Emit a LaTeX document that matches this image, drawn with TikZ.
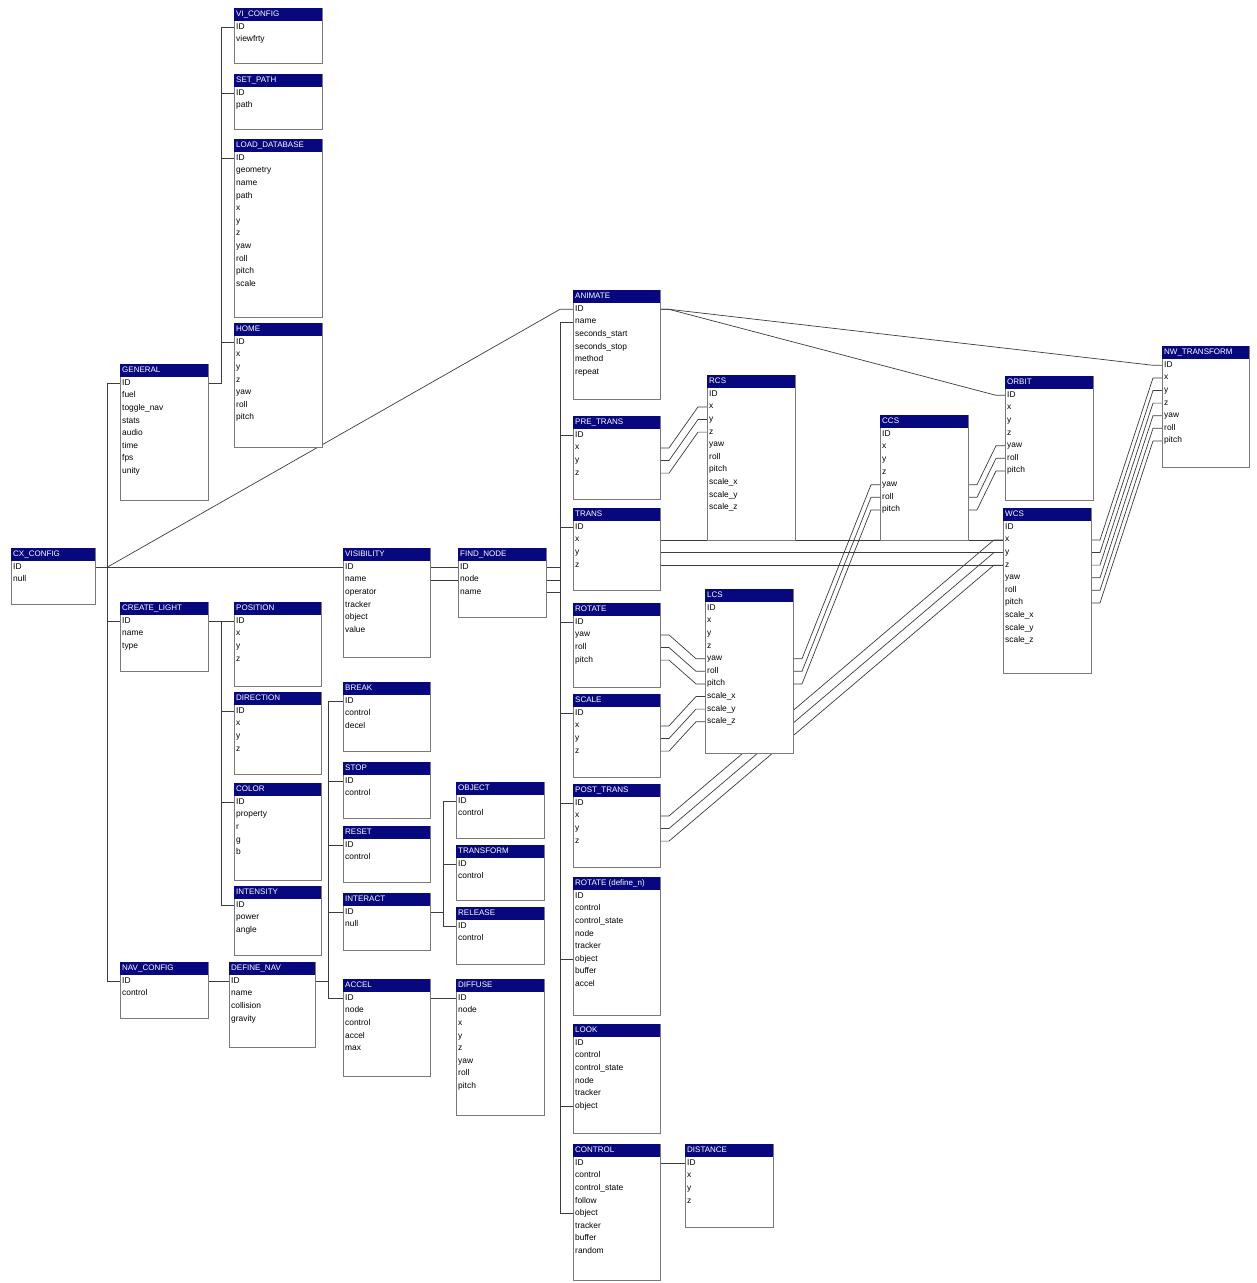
\documentclass[tikz,border=0pt]{standalone}
\usepackage{fontspec}
\setmainfont{Liberation Sans}
\usetikzlibrary{backgrounds}
\definecolor{ttlblue}{HTML}{08087E}
\definecolor{bordergray}{HTML}{7A7A7A}
\definecolor{linegray}{HTML}{3C3C3C}
\tikzset{
 tbox/.style={draw=bordergray, line width=0.9pt, fill=white, inner sep=0pt, outer sep=0pt},
 ttlbar/.style={fill=ttlblue, inner sep=0pt, outer sep=0pt},
 ttltext/.style={text=white, font=\fontsize{8}{9}\selectfont, inner sep=0pt, text height=6pt, text depth=2pt, anchor=west},
 fldtext/.style={text=black, font=\fontsize{8.4}{9}\selectfont, inner sep=0pt, text height=6pt, text depth=2pt, anchor=west},
 conn/.style={draw=linegray, line width=0.7pt},
}
\newcommand{\ertable}[7]{%
 \pgfmathsetmacro\tw{#4-#2}%
 \pgfmathsetmacro\th{#5-#3}%
 \node[tbox, minimum width=\tw pt, minimum height=\th pt, anchor=north west] (#1) at (#2,#3) {};
 \node[ttlbar, minimum width=\tw pt, minimum height=13pt, anchor=north west] (#1-t) at (#2,#3) {};
 \node[ttltext] (#1-tt) at ({#2+2},{#3+6.5}) {#6};
 \foreach \f [count=\i] in {#7} {
   \pgfmathsetmacro\ry{#3+19.3+(\i-1)*12.6}
   \node[fldtext] (#1-\i) at ({#2+2},\ry) {\f};
   \coordinate (#1-\i-l) at (#2,\ry);
   \coordinate (#1-\i-r) at (#4,\ry);
 }
}
\newcommand{\erlink}[2]{\draw[conn] (#1) -- ++(9,0) -- ([xshift=-9pt]#2) -- (#2);}
\begin{document}
\begin{tikzpicture}[x=1pt,y=-1pt]
\useasboundingbox (0,0) rectangle (1257,1283);
% ---------- tables ----------
\ertable{vic}{234}{8}{322}{63}{VI\_CONFIG}{ID,viewfrty}
\ertable{setp}{234}{74}{322}{129}{SET\_PATH}{ID,path}
\ertable{load}{234}{139}{322}{317}{LOAD\_DATABASE}{ID,geometry,name,path,x,y,z,yaw,roll,pitch,scale}
\ertable{home}{234}{323}{322}{447}{HOME}{ID,x,y,z,yaw,roll,pitch}
\ertable{gen}{120}{364}{208}{500}{GENERAL}{ID,fuel,toggle\_nav,stats,audio,time,fps,unity}
\ertable{cx}{11}{548}{95}{604}{CX\_CONFIG}{ID,null}
\ertable{cl}{120}{602}{208}{671}{CREATE\_LIGHT}{ID,name,type}
\ertable{pos}{234}{602}{321}{686}{POSITION}{ID,x,y,z}
\ertable{dir}{234}{692}{321}{774}{DIRECTION}{ID,x,y,z}
\ertable{col}{234}{783}{321}{880}{COLOR}{ID,property,r,g,b}
\ertable{int}{234}{886}{321}{955}{INTENSITY}{ID,power,angle}
\ertable{navc}{120}{962}{208}{1018}{NAV\_CONFIG}{ID,control}
\ertable{dnav}{229}{962}{315}{1047}{DEFINE\_NAV}{ID,name,collision,gravity}
\ertable{vis}{343}{548}{430}{657}{VISIBILITY}{ID,name,operator,tracker,object,value}
\ertable{fnd}{458}{548}{546}{617}{FIND\_NODE}{ID,node,name}
\ertable{brk}{343}{682}{430}{751}{BREAK}{ID,control,decel}
\ertable{stp}{343}{762}{430}{818}{STOP}{ID,control}
\ertable{rst}{343}{826}{430}{882}{RESET}{ID,control}
\ertable{inter}{343}{893}{430}{950}{INTERACT}{ID,null}
\ertable{acc}{343}{979}{430}{1076}{ACCEL}{ID,node,control,accel,max}
\ertable{obj}{456}{782}{544}{838}{OBJECT}{ID,control}
\ertable{trf}{456}{845}{544}{900}{TRANSFORM}{ID,control}
\ertable{rel}{456}{907}{544}{964}{RELEASE}{ID,control}
\ertable{dif}{456}{979}{544}{1115}{DIFFUSE}{ID,node,x,y,z,yaw,roll,pitch}
\ertable{ani}{573}{290}{660}{399}{ANIMATE}{ID,name,seconds\_start,seconds\_stop,method,repeat}
\ertable{pre}{573}{416}{660}{499}{PRE\_TRANS}{ID,x,y,z}
\ertable{trs}{573}{508}{660}{590}{TRANS}{ID,x,y,z}
\ertable{rot}{573}{603}{660}{687}{ROTATE}{ID,yaw,roll,pitch}
\ertable{scl}{573}{694}{660}{777}{SCALE}{ID,x,y,z}
\ertable{post}{573}{784}{660}{867}{POST\_TRANS}{ID,x,y,z}
\ertable{rotd}{573}{877}{660}{1015}{ROTATE (define\_n)}{ID,control,control\_state,node,tracker,object,buffer,accel}
\ertable{look}{573}{1024}{660}{1133}{LOOK}{ID,control,control\_state,node,tracker,object}
\ertable{ctl}{573}{1144}{660}{1280}{CONTROL}{ID,control,control\_state,follow,object,tracker,buffer,random}
\ertable{dist}{685}{1144}{773}{1227}{DISTANCE}{ID,x,y,z}
\ertable{rcs}{707}{375}{795}{540}{RCS}{ID,x,y,z,yaw,roll,pitch,scale\_x,scale\_y,scale\_z}
\ertable{lcs}{705}{589}{793}{753}{LCS}{ID,x,y,z,yaw,roll,pitch,scale\_x,scale\_y,scale\_z}
\ertable{ccs}{880}{415}{968}{540}{CCS}{ID,x,y,z,yaw,roll,pitch}
\ertable{orb}{1005}{376}{1093}{500}{ORBIT}{ID,x,y,z,yaw,roll,pitch}
\ertable{wcs}{1003}{508}{1091}{673}{WCS}{ID,x,y,z,yaw,roll,pitch,scale\_x,scale\_y,scale\_z}
\ertable{nwt}{1162}{346}{1249}{467}{NW\_TRANSFORM}{ID,x,y,z,yaw,roll,pitch}
% ---------- connectors ----------
\begin{scope}[on background layer]
\fill[white] (0,0) rectangle (1257,1283);
\coordinate (jA) at ([xshift=12pt]cx-1-r);
\coordinate (jG) at ([xshift=13pt]gen-1-r);
\coordinate (jL) at ([xshift=13pt]cl-1-r);
\coordinate (jD) at ([xshift=13pt]dnav-1-r);
\coordinate (jI) at ([xshift=13pt]inter-1-r);
\coordinate (jM) at ([xshift=-13pt]ani-2-l);
% left trunk
\draw[conn] (cx-1-r) -- (jA);
\draw[conn] (gen-1-l) -- (gen-1-l -| jA) -- (navc-1-l -| jA) -- (navc-1-l);
\draw[conn] (cl-1-l -| jA) -- (cl-1-l);
\draw[conn] (jA) -- (vis-1-l);
\draw[conn] (jA) -- (ani-1-l -| jM) -- (ani-1-l);
% general group
\draw[conn] (gen-1-r) -- (jG) -- (vic-1-l -| jG) -- (vic-1-l);
\draw[conn] (setp-1-l -| jG) -- (setp-1-l);
\draw[conn] (load-1-l -| jG) -- (load-1-l);
\draw[conn] (home-1-l -| jG) -- (home-1-l);
% light group
\draw[conn] (cl-1-r) -- (jL) -- (pos-1-l);
\draw[conn] (jL) -- (int-1-l -| jL) -- (int-1-l);
\draw[conn] (dir-1-l -| jL) -- (dir-1-l);
\draw[conn] (col-1-l -| jL) -- (col-1-l);
% nav group
\draw[conn] (navc-1-r) -- (dnav-1-l);
\draw[conn] (dnav-1-r) -- (jD);
\draw[conn] (brk-1-l) -- (brk-1-l -| jD) -- (acc-1-l -| jD) -- (acc-1-l);
\draw[conn] (stp-1-l -| jD) -- (stp-1-l);
\draw[conn] (rst-1-l -| jD) -- (rst-1-l);
\draw[conn] (inter-1-l -| jD) -- (inter-1-l);
\draw[conn] (inter-1-r) -- (jI);
\draw[conn] (obj-1-l) -- (obj-1-l -| jI) -- (rel-1-l -| jI) -- (rel-1-l);
\draw[conn] (trf-1-l -| jI) -- (trf-1-l);
\draw[conn] (acc-1-r) -- (dif-1-l);
% visibility
\draw[conn] (vis-1-r) -- (fnd-1-l);
\draw[conn] (vis-2-r) -- (fnd-2-l);
% main trunk
\draw[conn] (ani-2-l) -- (jM) -- (ctl-5-l -| jM) -- (ctl-5-l);
\draw[conn] (fnd-1-r) -- (fnd-1-r -| jM);
\draw[conn] (fnd-2-r) -- (fnd-2-r -| jM);
\draw[conn] (fnd-3-r) -- (fnd-3-r -| jM);
\draw[conn] (pre-1-l -| jM) -- (pre-1-l);
\draw[conn] (trs-1-l -| jM) -- (trs-1-l);
\draw[conn] (rot-1-l -| jM) -- (rot-1-l);
\draw[conn] (scl-1-l -| jM) -- (scl-1-l);
\draw[conn] (post-1-l -| jM) -- (post-1-l);
\draw[conn] (rotd-6-l -| jM) -- (rotd-6-l);
\draw[conn] (look-6-l -| jM) -- (look-6-l);
\draw[conn] (ctl-1-r) -- (dist-1-l);
% animate
\erlink{ani-1-r}{nwt-1-l}
\erlink{ani-1-r}{orb-1-l}
% transforms
\foreach \k in {2,3,4} {
  \erlink{pre-\k-r}{rcs-\k-l}
  \draw[conn] (trs-\k-r) -- (wcs-\k-l);
  \erlink{post-\k-r}{wcs-\k-l}
}
\foreach \a/\b in {2/5,3/6,4/7} {
  \erlink{rot-\a-r}{lcs-\b-l}
}
\foreach \a/\b in {2/8,3/9,4/10} {
  \erlink{scl-\a-r}{lcs-\b-l}
}
\foreach \k in {5,6,7} {
  \erlink{lcs-\k-r}{ccs-\k-l}
  \erlink{ccs-\k-r}{orb-\k-l}
}
\foreach \k in {2,...,7} {
  \erlink{wcs-\k-r}{nwt-\k-l}
}
\end{scope}
\end{tikzpicture}
\end{document}
